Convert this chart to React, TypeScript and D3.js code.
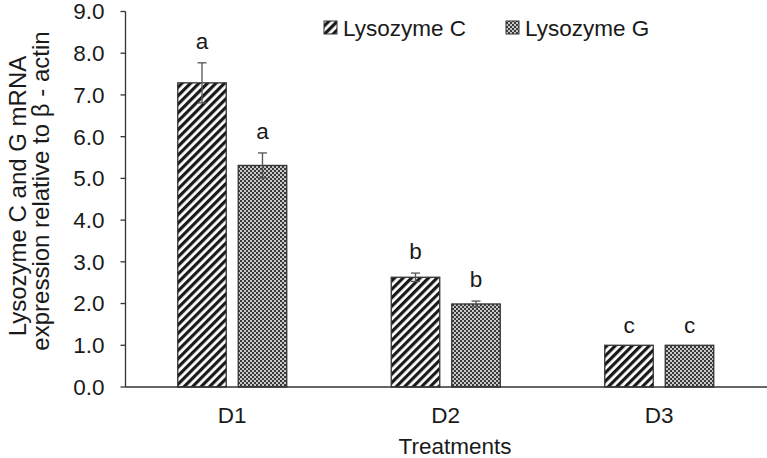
import React from "react";
import * as d3 from "d3";

const categories = ["D1", "D2", "D3"];
const seriesNames = ["Lysozyme C", "Lysozyme G"];
const lysozymeC = [7.29, 2.63, 1.0];
const lysozymeG = [5.31, 1.99, 1.0];
const errC = [0.48, 0.1, 0];
const errG = [0.3, 0.07, 0];
const lettersC = ["a", "b", "c"];
const lettersG = ["a", "b", "c"];
const yTicks = [0, 1, 2, 3, 4, 5, 6, 7, 8, 9];

const W = 767;
const H = 458;
const m = { left: 125.5, right: 1, top: 11.5, bottom: 71 };

export default function App() {
  const x = d3.scaleBand<string>().domain(categories).range([m.left, W - m.right]).paddingInner(0).paddingOuter(0);
  const y = d3.scaleLinear().domain([0, 9]).range([H - m.bottom, m.top]);
  const barW = 48.5;
  const gap = 12;
  const series = [
    { name: seriesNames[0], vals: lysozymeC, err: errC, letters: lettersC, fill: "url(#hatchC)" },
    { name: seriesNames[1], vals: lysozymeG, err: errG, letters: lettersG, fill: "url(#dotG)" },
  ];
  const font = "'Liberation Sans', Arial, sans-serif";
  const fs = 22.5;
  return (
    <div style={{ position: "absolute", left: 0, top: 0 }}>
      <svg width={W} height={H} style={{ display: "block", fontFamily: font }}>
        <defs>
          <pattern id="hatchC" patternUnits="userSpaceOnUse" width={6} height={6} patternTransform="rotate(45)">
            <rect width={6} height={6} fill="#ffffff" />
            <rect width={3.2} height={6} fill="#1a1a1a" />
          </pattern>
          <pattern id="dotG" patternUnits="userSpaceOnUse" width={4} height={4}>
            <rect width={4} height={4} fill="#c8c8c8" />
            <rect x={0} y={0} width={2} height={2} fill="#3a3a3a" />
            <rect x={2} y={2} width={2} height={2} fill="#3a3a3a" />
          </pattern>
        </defs>
        {categories.map((c, i) => {
          const cx = (x(c) as number) + x.bandwidth() / 2;
          return series.map((s, si) => {
            const left = si === 0 ? cx - gap / 2 - barW : cx + gap / 2;
            const v = s.vals[i];
            const bx = left + barW / 2;
            const e = s.err[i];
            return (
              <g key={c + si}>
                <rect x={left} y={y(v)} width={barW} height={y(0) - y(v)} fill={s.fill} stroke="#333" strokeWidth={1.3} />
                {e > 0 && (
                  <g stroke="#555" strokeWidth={1.3}>
                    <line x1={bx} x2={bx} y1={y(v + e)} y2={y(v - e)} />
                    <line x1={bx - 4.5} x2={bx + 4.5} y1={y(v + e)} y2={y(v + e)} />
                    <line x1={bx - 4.5} x2={bx + 4.5} y1={y(v - e)} y2={y(v - e)} />
                  </g>
                )}
                <text x={bx} y={y(v + e) - (e > 0 ? 14 : 12)} textAnchor="middle" fontSize={fs} fill="#1a1a1a">
                  {s.letters[i]}
                </text>
              </g>
            );
          });
        })}
        <line x1={m.left} x2={W} y1={y(0)} y2={y(0)} stroke="#333" strokeWidth={1.3} />
        <line x1={m.left} x2={m.left} y1={y(9)} y2={y(0)} stroke="#333" strokeWidth={1.3} />
        {yTicks.map((t) => (
          <g key={t}>
            <line x1={m.left - 5} x2={m.left} y1={y(t)} y2={y(t)} stroke="#333" strokeWidth={1.3} />
            <text x={m.left - 21} y={y(t)} dy="0.35em" textAnchor="end" fontSize={fs} fill="#1a1a1a">
              {t.toFixed(1)}
            </text>
          </g>
        ))}
        {categories.map((c) => (
          <text key={c} x={(x(c) as number) + x.bandwidth() / 2} y={415.5} dy="0.35em" textAnchor="middle" fontSize={fs} fill="#1a1a1a">
            {c}
          </text>
        ))}
        <text x={455} y={446} dy="0.35em" textAnchor="middle" fontSize={fs} fill="#1a1a1a">
          Treatments
        </text>
        <text transform={`translate(18,196) rotate(-90)`} dy="0.35em" textAnchor="middle" fontSize={24} fill="#1a1a1a">
          Lysozyme C and G mRNA
        </text>
        <text transform={`translate(41,191) rotate(-90)`} dy="0.35em" textAnchor="middle" fontSize={24} fill="#1a1a1a">
          expression relative to β - actin
        </text>
        {series.map((s, si) => {
          const lx = si === 0 ? 324 : 506;
          return (
            <g key={s.name}>
              <rect x={lx} y={21} width={13} height={13} fill={s.fill} stroke="#333" strokeWidth={1} />
              <text x={lx + 19} y={28} dy="0.35em" fontSize={fs} fill="#1a1a1a">
                {s.name}
              </text>
            </g>
          );
        })}
      </svg>
    </div>
  );
}
